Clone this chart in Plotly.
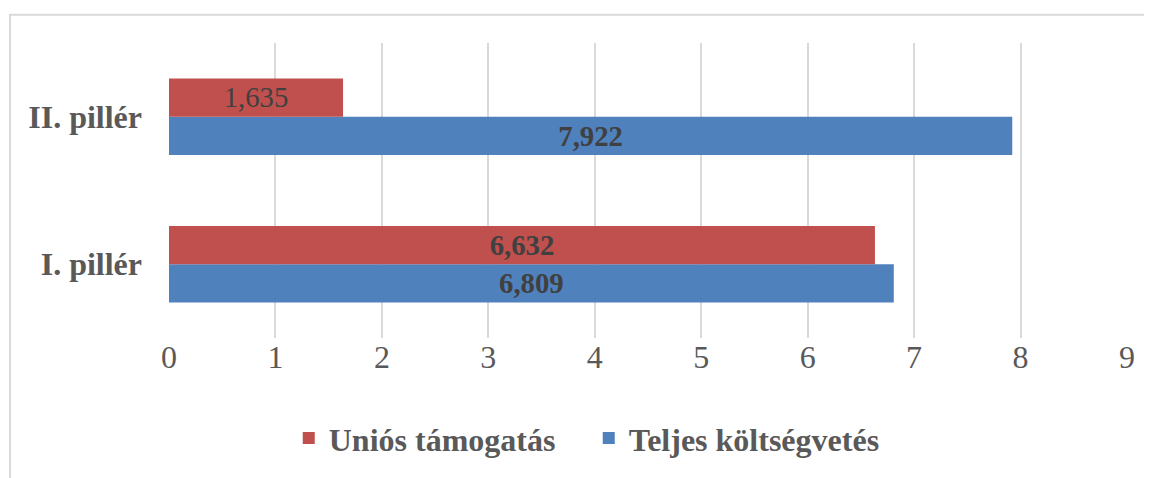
import plotly.graph_objects as go

# data
categories = ["I. pillér", "II. pillér"]
teljes = [6.809, 7.922]
unios = [6.632, 1.635]
unios_bold = [True, False]
teljes_bold = [True, True]
x_ticks = list(range(0, 10))


def labels(vals, bold):
	out = []
	for v, b in zip(vals, bold):
		s = f"{v:.3f}".replace(".", ",")
		out.append(f"<b>{s}</b>" if b else s)
	return out


serif = "Liberation Serif, Times New Roman, serif"

fig = go.Figure()
fig.add_trace(go.Bar(
	y=categories, x=teljes, orientation="h", name="Teljes költségvetés",
	marker=dict(color="#4F81BD", line=dict(width=0)),
	text=labels(teljes, teljes_bold), textposition="inside",
	insidetextanchor="middle",
	textfont=dict(family=serif, size=32, color="#404040"),
))
fig.add_trace(go.Bar(
	y=categories, x=unios, orientation="h", name="Uniós támogatás",
	marker=dict(color="#C0504D", line=dict(width=0)),
	text=labels(unios, unios_bold), textposition="inside",
	insidetextanchor="middle",
	textfont=dict(family=serif, size=32, color="#404040"),
))

# the page body has an 8px margin, so the figure is sized to fit inside it
_ = fig.update_layout(
	width=1144, height=470,
	margin=dict(l=161, r=25, t=35, b=132),
	paper_bgcolor="white",
	plot_bgcolor="white",
	barmode="group",
	bargap=0.48,
	bargroupgap=0,
	showlegend=True,
	legend=dict(
		orientation="h", traceorder="reversed",
		x=0.125, xanchor="left", y=-0.34, yanchor="middle",
		font=dict(family=serif, size=32, color="#595959", weight="bold"),
		itemwidth=30, entrywidth=255,
	),
	shapes=[dict(
		type="rect", xref="paper", yref="paper",
		x0=-0.166, x1=1.2, y0=-0.6, y1=1.0957,
		line=dict(color="#D9D9D9", width=2), fillcolor="rgba(0,0,0,0)",
		layer="below",
	)],
)
_ = fig.update_xaxes(
	range=[0, 9], tickvals=x_ticks, showgrid=True, gridcolor="#D9D9D9",
	gridwidth=1.5, zeroline=False, showline=False, automargin=False,
	tickfont=dict(family=serif, size=32, color="#595959"),
	ticklabelstandoff=-3,
)
_ = fig.update_yaxes(
	showgrid=False, zeroline=False, showline=False, automargin=False,
	tickfont=dict(family=serif, size=32, color="#595959", weight="bold"),
	ticklabelstandoff=26,
)

fig.write_html("out.html")
